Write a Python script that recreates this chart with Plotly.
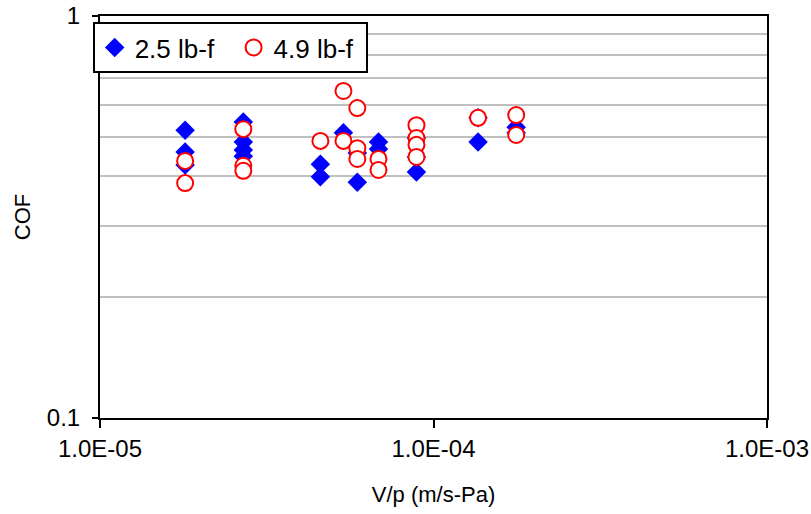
import plotly.graph_objects as go

# 2.5 lb-f series
x_25 = [1.80e-5, 1.80e-5, 1.80e-5,
        2.69e-5, 2.69e-5, 2.69e-5, 2.69e-5,
        4.58e-5, 4.58e-5,
        5.37e-5,
        5.91e-5, 5.91e-5,
        6.84e-5, 6.84e-5,
        8.89e-5, 8.89e-5, 8.89e-5,
        1.36e-4, 1.36e-4,
        1.77e-4, 1.77e-4]
y_25 = [0.520, 0.459, 0.426,
        0.545, 0.486, 0.464, 0.448,
        0.428, 0.398,
        0.512,
        0.386, 0.456,
        0.486, 0.467,
        0.409, 0.497, 0.446,
        0.558, 0.486,
        0.529, 0.512]

# 4.9 lb-f series
x_49 = [1.80e-5, 1.80e-5,
        2.69e-5, 2.69e-5, 2.69e-5,
        4.58e-5,
        5.37e-5, 5.37e-5,
        5.91e-5, 5.91e-5, 5.91e-5,
        6.84e-5, 6.84e-5,
        8.89e-5, 8.89e-5, 8.89e-5, 8.89e-5,
        1.36e-4,
        1.77e-4, 1.77e-4]
y_49 = [0.436, 0.384,
        0.523, 0.424, 0.412,
        0.489,
        0.651, 0.489,
        0.590, 0.469, 0.441,
        0.441, 0.414,
        0.535, 0.497, 0.478, 0.446,
        0.558,
        0.567, 0.506]

x_tickvals = [1e-5, 1e-4, 1e-3]
x_ticktext = ["1.0E-05", "1.0E-04", "1.0E-03"]
y_tickvals = [0.1, 1]
y_ticktext = ["0.1", "1"]
y_gridvals = [0.2, 0.3, 0.4, 0.5, 0.6, 0.7, 0.8, 0.9]

fig = go.Figure()
fig.add_trace(go.Scatter(
    x=x_25, y=y_25, mode="markers", name="2.5 lb-f\u00a0\u00a0",
    marker=dict(symbol="diamond", size=15, color="#0000ff",
                line=dict(width=0)),
))
fig.add_trace(go.Scatter(
    x=x_49, y=y_49, mode="markers", name="4.9 lb-f\u00a0",
    marker=dict(symbol="circle", size=16, color="white",
                line=dict(width=2, color="#ff0000")),
))

font = dict(family="Liberation Sans, Arial, sans-serif", color="black")

fig.update_layout(
    width=811, height=514,
    margin=dict(l=100, r=44, t=16, b=96, autoexpand=False),
    paper_bgcolor="white", plot_bgcolor="white",
    font=dict(**font, size=21),
    showlegend=True,
    legend=dict(
        orientation="h", x=-0.011, y=0.985, xanchor="left", yanchor="top",
        bgcolor="white", bordercolor="black", borderwidth=2,
        font=dict(**font, size=26), itemsizing="trace",
        tracegroupgap=0,
    ),
    xaxis=dict(
        type="log", range=[-5, -3], automargin=False,
        tickmode="array", tickvals=x_tickvals, ticktext=x_ticktext,
        ticks="outside", ticklen=8, tickwidth=2, tickcolor="black",
        showgrid=False, zeroline=False,
        showline=True, linewidth=2, linecolor="black", mirror=True,
        tickfont=dict(**font, size=24),
        title=dict(text="V/p (m/s-Pa)", font=dict(**font, size=22), standoff=26),
    ),
    yaxis=dict(
        type="log", range=[-1, 0], automargin=False,
        tickmode="array", tickvals=y_tickvals, ticktext=y_ticktext,
        ticks="outside", ticklen=6, tickwidth=2, tickcolor="black",
        showgrid=False, zeroline=False,
        showline=True, linewidth=2, linecolor="black", mirror=True,
        tickfont=dict(**font, size=24),
        ticklabelstandoff=7,
        title=dict(text="COF", font=dict(**font, size=22), standoff=10),
        minor=dict(tickmode="array", tickvals=y_gridvals, showgrid=True,
                   gridcolor="#c0c0c0", gridwidth=2, ticks="", ticklen=0),
    ),
)

fig.write_html("out.html")
